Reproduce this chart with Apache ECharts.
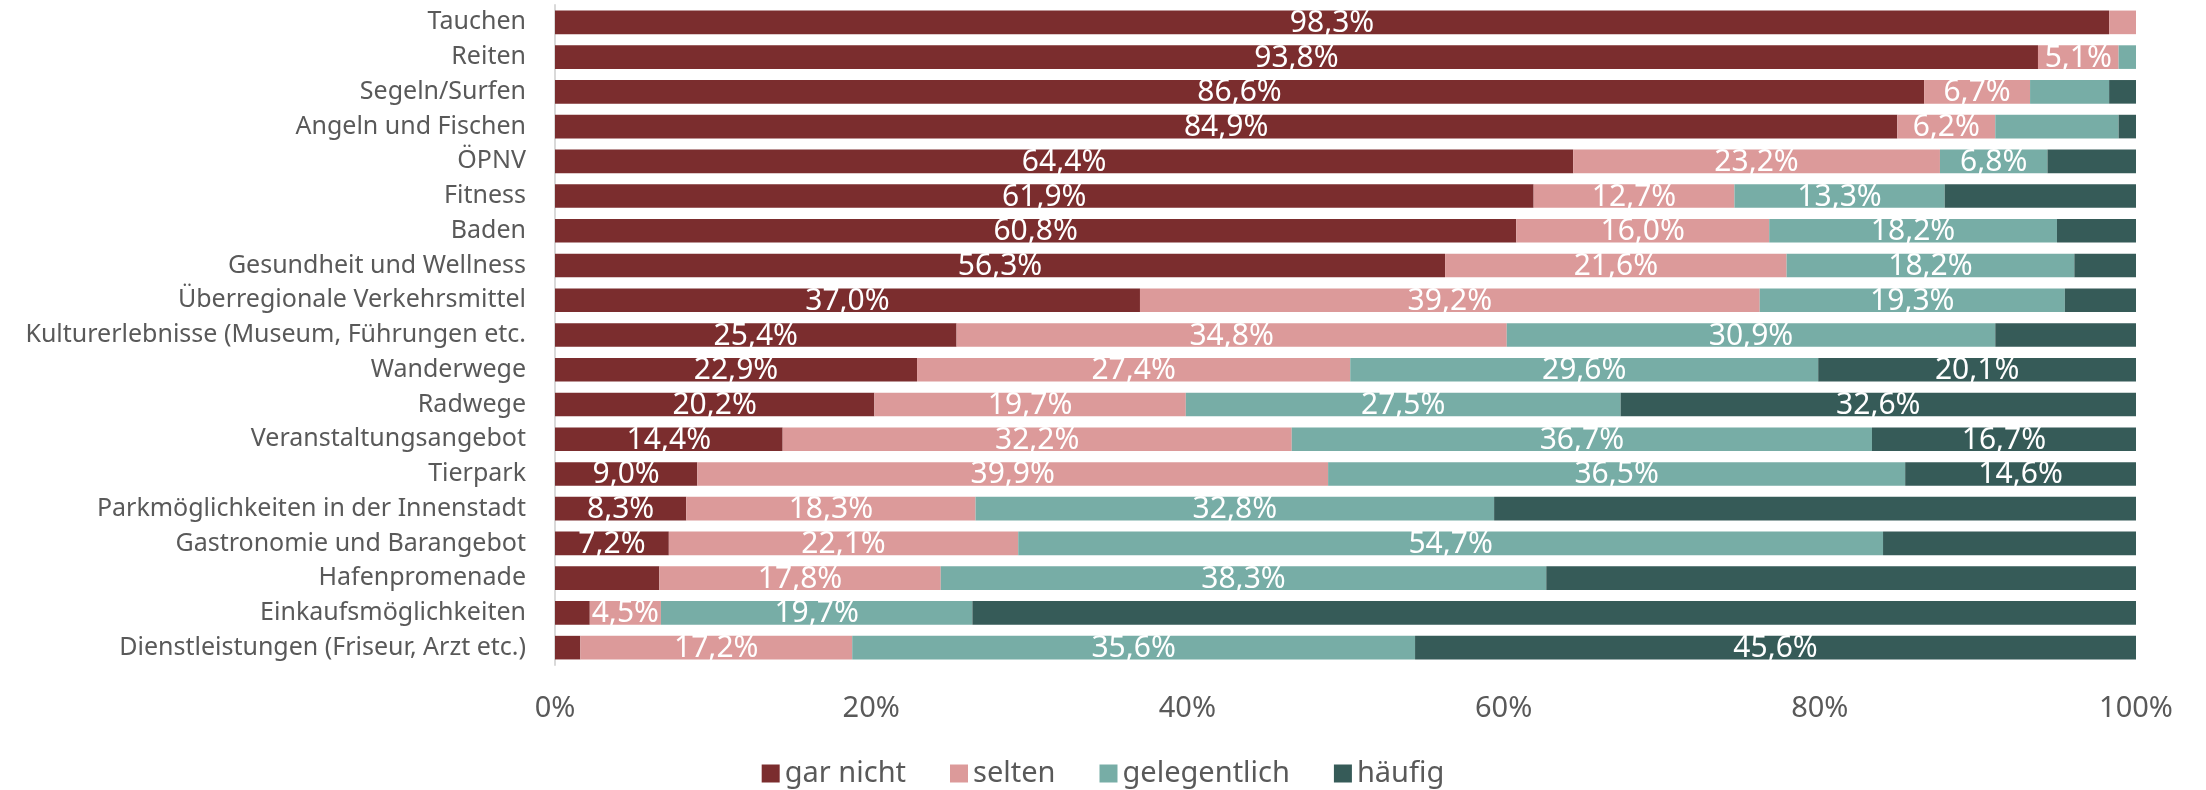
<!DOCTYPE html>
<html>
<head>
<meta charset="utf-8">
<script src="https://cdn.jsdelivr.net/npm/echarts@6/dist/echarts.min.js"></script>
<style>
  html, body { margin: 0; padding: 0; background: #fff; }
  #chart { width: 2206px; height: 790px; }
</style>
</head>
<body>
<div id="chart"></div>
<script>
const categories = [
  'Tauchen', 'Reiten', 'Segeln/Surfen', 'Angeln und Fischen', 'ÖPNV', 'Fitness', 'Baden',
  'Gesundheit und Wellness', 'Überregionale Verkehrsmittel', 'Kulturerlebnisse (Museum, Führungen etc.',
  'Wanderwege', 'Radwege', 'Veranstaltungsangebot', 'Tierpark', 'Parkmöglichkeiten in der Innenstadt',
  'Gastronomie und Barangebot', 'Hafenpromenade', 'Einkaufsmöglichkeiten', 'Dienstleistungen (Friseur, Arzt etc.)'
]
const garNicht = [98.3, 93.8, 86.6, 84.9, 64.4, 61.9, 60.8, 56.3, 37.0, 25.4, 22.9, 20.2, 14.4, 9.0, 8.3, 7.2, 6.6, 2.2, 1.6]
const selten = [1.7, 5.1, 6.7, 6.2, 23.2, 12.7, 16.0, 21.6, 39.2, 34.8, 27.4, 19.7, 32.2, 39.9, 18.3, 22.1, 17.8, 4.5, 17.2]
const gelegentlich = [0, 1.1, 5.0, 7.8, 6.8, 13.3, 18.2, 18.2, 19.3, 30.9, 29.6, 27.5, 36.7, 36.5, 32.8, 54.7, 38.3, 19.7, 35.6]
const haeufig = [0, 0, 1.7, 1.1, 5.6, 12.1, 5.0, 3.9, 4.5, 8.9, 20.1, 32.6, 16.7, 14.6, 40.6, 16.0, 37.3, 73.6, 45.6]
const tickLabels = ['0%', '20%', '40%', '60%', '80%', '100%']

// category indexes whose data label is not shown in the original
const hiddenGarNicht = [16, 17, 18]
const hiddenSelten = [0]
const hiddenGelegentlich = [0, 1, 2, 3]
const hiddenHaeufig = [0, 1, 2, 3, 4, 5, 6, 7, 8, 9, 14, 15, 16, 17]

const font = "'Noto Sans', 'Open Sans', sans-serif"
const myChart = echarts.init(document.getElementById('chart'))

const makeSeries = (name, values, hidden, color) => ({
  name: name,
  type: 'bar',
  stack: 'total',
  barCategoryGap: '32%',
  data: values.map((v, i) => ({
    value: v,
    label: { show: !hidden.includes(i) },
  })),
  itemStyle: { color: color },
  label: {
    show: true,
    position: 'inside',
    offset: [0, 1],
    color: '#fff',
    fontFamily: font,
    fontSize: 30,
    formatter: function (p) {
      return p.value.toFixed(1).replace('.', ',') + '%'
    },
  },
})

myChart.setOption({
  animation: false,
  textStyle: { fontFamily: font },
  grid: {
    left: 555,
    right: 70,
    top: 5,
    bottom: 125,
  },
  legend: {
    left: 'center',
    top: 754,
    itemWidth: 18,
    itemHeight: 18,
    itemGap: 44,
    icon: 'rect',
    textStyle: { color: '#595959', fontSize: 29, fontFamily: font },
    data: ['gar nicht', 'selten', 'gelegentlich', 'häufig'],
  },
  xAxis: {
    type: 'value',
    min: 0,
    max: 100,
    interval: 20,
    axisLine: { show: false },
    axisTick: { show: false },
    splitLine: { show: false },
    axisLabel: {
      color: '#595959',
      fontSize: 29,
      fontFamily: font,
      margin: 29,
      formatter: function (v) {
        return tickLabels[v / 20]
      },
    },
  },
  yAxis: {
    type: 'category',
    data: categories,
    inverse: true,
    axisTick: { show: false },
    axisLine: { show: true, lineStyle: { color: '#d9d9d9', width: 2 } },
    axisLabel: {
      color: '#595959',
      fontSize: 25,
      fontFamily: font,
      margin: 29,
    },
  },
  series: [
    makeSeries('gar nicht', garNicht, hiddenGarNicht, '#7b2d2e'),
    makeSeries('selten', selten, hiddenSelten, '#dc9a9a'),
    makeSeries('gelegentlich', gelegentlich, hiddenGelegentlich, '#77ada6'),
    makeSeries('häufig', haeufig, hiddenHaeufig, '#365b58'),
  ],
})
</script>
</body>
</html>
